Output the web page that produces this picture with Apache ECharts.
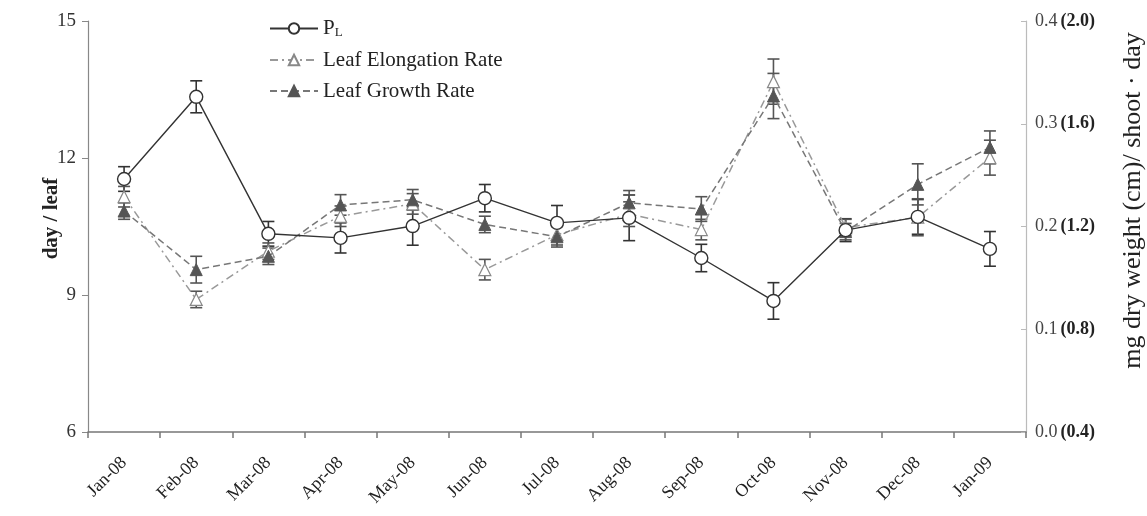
<!DOCTYPE html>
<html>
<head>
<meta charset="utf-8">
<script src="https://cdn.jsdelivr.net/npm/echarts@6/dist/echarts.min.js"></script>
<style>html,body{margin:0;padding:0;background:#fff;}#c{width:1147px;height:516px;}</style>
</head>
<body>
<div id="c"></div>
<script>
const categories = ['Jan-08','Feb-08','Mar-08','Apr-08','May-08','Jun-08','Jul-08','Aug-08','Sep-08','Oct-08','Nov-08','Dec-08','Jan-09'];
const pl = [11.54, 13.34, 10.34, 10.25, 10.51, 11.12, 10.58, 10.69, 9.81, 8.87, 10.42, 10.71, 10.01];
const plErr = [0.27, 0.35, 0.27, 0.33, 0.42, 0.30, 0.38, 0.50, 0.30, 0.40, 0.25, 0.38, 0.38];
const elong = [0.229, 0.129, 0.176, 0.210, 0.222, 0.158, 0.192, 0.212, 0.197, 0.341, 0.199, 0.209, 0.267];
const elongErr = [0.010, 0.008, 0.008, 0.010, 0.010, 0.010, 0.010, 0.012, 0.010, 0.022, 0.008, 0.018, 0.017];
const growth = [0.215, 0.158, 0.171, 0.221, 0.226, 0.202, 0.190, 0.223, 0.217, 0.327, 0.195, 0.241, 0.277];
const growthErr = [0.008, 0.013, 0.008, 0.010, 0.010, 0.008, 0.010, 0.012, 0.012, 0.022, 0.008, 0.020, 0.016];
const leftTicks = [6, 9, 12, 15];
const rightTickLabels = ['0.0', '0.1', '0.2', '0.3', '0.4'];
const rightTickAlt = ['(0.4)', '(0.8)', '(1.2)', '(1.6)', '(2.0)'];

const SERIF = 'Liberation Serif, Times New Roman, serif';
const chart = echarts.init(document.getElementById('c'));

function errSeries(name, vals, errs, yIndex, color) {
  return {
    type: 'custom', name: name + ' err', yAxisIndex: yIndex, z: 1, silent: true,
    data: categories.map((c, i) => [i, vals[i], errs[i]]),
    renderItem: function (params, api) {
      const x = api.value(0), y = api.value(1), e = api.value(2);
      const hi = api.coord([x, y + e]);
      const lo = api.coord([x, y - e]);
      const w = 6;
      const st = { stroke: color, lineWidth: 1.6 };
      return { type: 'group', children: [
        { type: 'line', shape: { x1: hi[0], y1: hi[1], x2: lo[0], y2: lo[1] }, style: st },
        { type: 'line', shape: { x1: hi[0] - w, y1: hi[1], x2: hi[0] + w, y2: hi[1] }, style: st },
        { type: 'line', shape: { x1: lo[0] - w, y1: lo[1], x2: lo[0] + w, y2: lo[1] }, style: st }
      ]};
    }
  };
}

chart.setOption({
  animation: false,
  backgroundColor: '#fff',
  grid: { left: 88, right: 121, top: 21, bottom: 84, containLabel: false, outerBoundsMode: 'none' },
  legend: {
    left: 264, top: 13, orient: 'vertical', itemWidth: 48, itemHeight: 13, itemGap: 10,
    data: ['PL', 'Leaf Elongation Rate', 'Leaf Growth Rate'],
    formatter: function (n) { return n === 'PL' ? '{p|P}{s|L}' : '{t|' + n + '}'; },
    textStyle: {
      fontFamily: SERIF, fontSize: 21, color: '#222',
      rich: {
        p: { fontFamily: SERIF, fontSize: 21, color: '#222' },
        s: { fontFamily: SERIF, fontSize: 13, color: '#222', verticalAlign: 'bottom', padding: [9, 0, 0, 0] },
        t: { fontFamily: SERIF, fontSize: 21, color: '#222' }
      }
    }
  },
  xAxis: {
    type: 'category', data: categories, boundaryGap: true,
    axisLine: { lineStyle: { color: '#777', width: 1.6 } },
    axisTick: { show: true, length: 6, lineStyle: { color: '#777', width: 1.5 } },
    axisLabel: { rotate: 45, margin: 28, fontFamily: SERIF, fontSize: 18, color: '#222' }
  },
  yAxis: [
    {
      type: 'value', min: 6, max: 15, interval: 3, position: 'left',
      name: 'day / leaf', nameLocation: 'middle', nameGap: 26, nameMoveOverlap: false,
      nameTextStyle: { fontFamily: SERIF, fontSize: 21, fontWeight: 'bold', color: '#222', padding: [0, 0, 0, 16] },
      axisLine: { show: true, lineStyle: { color: '#888', width: 1.2 } },
      axisTick: { show: true, length: 6, lineStyle: { color: '#888' } },
      axisLabel: { margin: 12, fontFamily: SERIF, fontSize: 19, color: '#333' },
      splitLine: { show: false }
    },
    {
      type: 'value', min: 0, max: 0.4, interval: 0.1, position: 'right',
      name: 'mg dry weight (cm)/ shoot \u00b7 day', nameLocation: 'middle', nameGap: 94, nameRotate: 90, nameMoveOverlap: false,
      nameTextStyle: { fontFamily: SERIF, fontSize: 26, color: '#222', padding: [0, 0, 0, 52] },
      axisLine: { show: true, lineStyle: { color: '#bbb', width: 1.2 } },
      axisTick: { show: true, inside: true, length: 5, lineStyle: { color: '#bbb' } },
      axisLabel: {
        margin: 9, fontFamily: SERIF, fontSize: 18, color: '#333',
        formatter: function (v) {
          const i = Math.round(v * 10);
          return '{n|' + rightTickLabels[i] + '}{b|' + rightTickAlt[i] + '}';
        },
        rich: {
          n: { fontFamily: SERIF, fontSize: 18, color: '#444', padding: [0, 3, 0, 0] },
          b: { fontFamily: SERIF, fontSize: 18, color: '#222', fontWeight: 'bold' }
        }
      },
      splitLine: { show: false }
    }
  ],
  series: [
    errSeries('PL', pl, plErr, 0, '#333'),
    errSeries('Leaf Elongation Rate', elong, elongErr, 1, '#555'),
    errSeries('Leaf Growth Rate', growth, growthErr, 1, '#555'),
    {
      name: 'Leaf Elongation Rate', type: 'line', yAxisIndex: 1, z: 3, data: elong,
      symbol: 'triangle', symbolSize: 12,
      lineStyle: { color: '#999', width: 1.5, type: [8, 4, 2, 4] },
      itemStyle: { color: '#fff', borderColor: '#888', borderWidth: 1.2 }
    },
    {
      name: 'Leaf Growth Rate', type: 'line', yAxisIndex: 1, z: 4, data: growth,
      symbol: 'triangle', symbolSize: 12,
      lineStyle: { color: '#777', width: 1.5, type: [7, 4] },
      itemStyle: { color: '#555', borderColor: '#555', borderWidth: 1 }
    },
    {
      name: 'PL', type: 'line', yAxisIndex: 0, z: 5, data: pl,
      symbol: 'circle', symbolSize: 13,
      lineStyle: { color: '#333', width: 1.4 },
      itemStyle: { color: '#fff', borderColor: '#333', borderWidth: 1.4 }
    }
  ]
});
</script>
</body>
</html>
